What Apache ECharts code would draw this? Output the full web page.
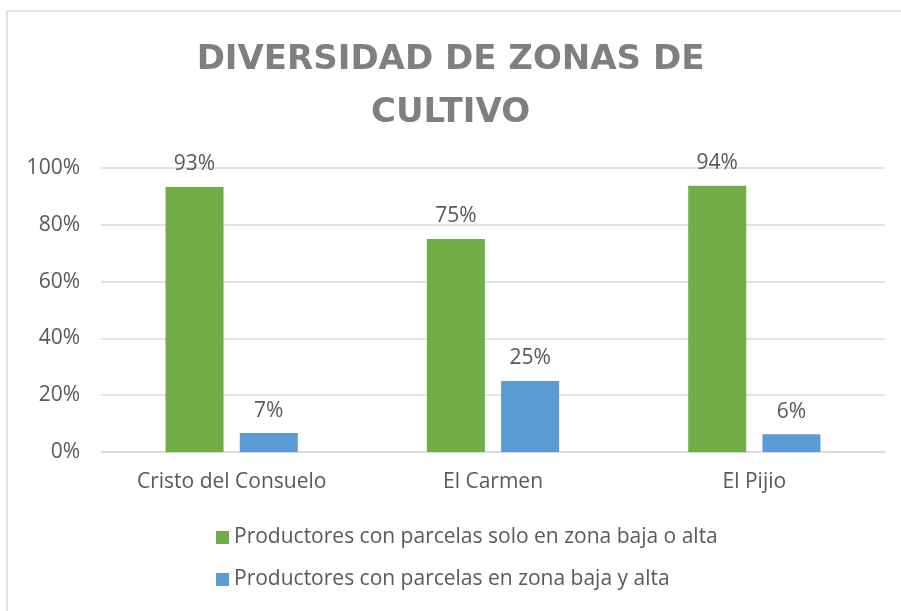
<!DOCTYPE html>
<html lang="es">
<head>
    <meta charset="UTF-8">
    <title>Diversidad de zonas de cultivo</title>
    <style>
        html, body { margin: 0; padding: 0; background: #fff; }
    </style>
</head>
<body>
<div id="chart" style="width: 901px;height:611px;"></div>
<script src="https://cdn.jsdelivr.net/npm/echarts@6/dist/echarts.min.js"></script>
<script>
    // datos
    var categorias = ['Cristo del Consuelo', 'El Carmen', 'El Pijio'];
    var serieNombres = ['Productores con parcelas solo en zona baja o alta', 'Productores con parcelas en zona baja y alta'];
    var soloUnaZona = [93.33, 75, 93.75];
    var ambasZonas = [6.67, 25, 6.25];
    var ticksY = [0, 20, 40, 60, 80, 100];

    var gris = '#595959';
    var fuente = '"Open Sans", sans-serif';

    var myChart = echarts.init(document.getElementById('chart'));

    function etiqueta(p) {
        return Math.round(p.value) + '%';
    }

    myChart.setOption({
        animation: false,
        title: {
            text: 'DIVERSIDAD DE ZONAS DE\nCULTIVO',
            left: 'center',
            top: 29,
            textStyle: {
                color: '#7f7f7f',
                fontFamily: '"DejaVu Sans", sans-serif',
                fontWeight: 'bold',
                fontSize: 34,
                lineHeight: 53
            }
        },
        graphic: [{
            type: 'rect',
            shape: { x: 7, y: 11, width: 910, height: 620 },
            style: { fill: 'none', stroke: '#d9d9d9', lineWidth: 1.5 },
            silent: true
        }],
        legend: {
            orient: 'vertical',
            left: 211,
            top: 522,
            itemWidth: 13,
            itemHeight: 13,
            itemGap: 21,
            icon: 'rect',
            data: serieNombres,
            textStyle: { color: gris, fontSize: 21, fontFamily: fuente }
        },
        grid: {
            left: 101,
            right: 16,
            top: 168,
            bottom: 159
        },
        xAxis: {
            type: 'category',
            data: categorias,
            axisLine: { lineStyle: { color: '#d9d9d9', width: 1.5 } },
            axisTick: { show: false },
            axisLabel: { color: gris, fontSize: 21, fontFamily: fuente, margin: 20 }
        },
        yAxis: {
            type: 'value',
            min: ticksY[0],
            max: ticksY[ticksY.length - 1],
            interval: 20,
            axisLine: { show: false },
            axisTick: { show: false },
            splitLine: { lineStyle: { color: '#d9d9d9', width: 1.5 } },
            axisLabel: { color: gris, fontSize: 21, fontFamily: fuente, margin: 21, formatter: '{value}%' }
        },
        series: [{
            name: serieNombres[0],
            type: 'bar',
            data: soloUnaZona,
            barWidth: 58,
            barGap: '28%',
            itemStyle: { color: '#70ad47' },
            label: { show: true, position: 'top', distance: 12, color: gris, fontSize: 21, fontFamily: fuente, formatter: etiqueta }
        }, {
            name: serieNombres[1],
            type: 'bar',
            data: ambasZonas,
            barWidth: 58,
            itemStyle: { color: '#5b9bd5' },
            label: { show: true, position: 'top', distance: 12, color: gris, fontSize: 21, fontFamily: fuente, formatter: etiqueta }
        }]
    });
</script>
</body>
</html>
